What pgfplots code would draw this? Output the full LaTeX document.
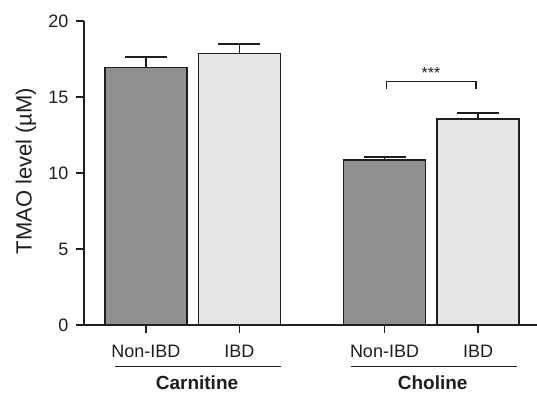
\documentclass[border=0pt]{standalone}
\usepackage{pgfplots}
\pgfplotsset{compat=1.18}
\usepackage{fontspec}
\setmainfont{Liberation Sans}
\definecolor{darkbar}{RGB}{143,144,143}
\definecolor{lightbar}{RGB}{229,229,229}
\definecolor{edge}{RGB}{30,30,30}
\begin{document}
\begin{tikzpicture}
\begin{axis}[
  at={(84pt,68pt)}, anchor=south west,
  scale only axis, width=453pt, height=304pt,
  xmin=-0.663, xmax=4.182, ymin=0, ymax=20,
  axis x line*=bottom, axis y line*=left,
  axis line style={line width=1.6pt, -, edge},
  tick style={line width=1.4pt, edge},
  tick align=outside, major tick length=8pt,
  ytick={0,5,10,15,20},
  xtick={0,1,2.551,3.551},
  xticklabels={Non-IBD,IBD,Non-IBD,IBD},
  /pgf/number format/assume math mode=true,
  ticklabel style={font=\fontsize{18}{20}\selectfont, text=edge},
  xticklabel style={yshift=-9pt},
  yticklabel style={xshift=-4pt},
  clip=false,
]
\addplot[ybar, bar width=0.877, bar shift=0pt, fill=darkbar, draw=edge, line width=1.2pt,
  error bars/.cd, y dir=plus, y explicit, error mark=|,
  error bar style={line width=1.8pt, edge},
  error mark options={line width=1.8pt, mark size=21pt, edge}]
  coordinates {(0,16.93) +- (0,0.70) (2.551,10.86) +- (0,0.21)};
\addplot[ybar, bar width=0.877, bar shift=0pt, fill=lightbar, draw=edge, line width=1.2pt,
  error bars/.cd, y dir=plus, y explicit, error mark=|,
  error bar style={line width=1.8pt, edge},
  error mark options={line width=1.8pt, mark size=21pt, edge}]
  coordinates {(1,17.85) +- (0,0.65) (3.551,13.55) +- (0,0.40)};
\draw[line width=1.2pt, edge] (axis cs:2.574,15.5) -- (axis cs:2.574,16.0) -- (axis cs:3.529,16.0) -- (axis cs:3.529,15.5);
\node[font=\fontsize{16}{18}\selectfont, text=edge] at (axis cs:3.048,16.55) {***};
\end{axis}
\node[rotate=90, font=\fontsize{22}{24}\selectfont, text=edge] at (26pt,222pt) {TMAO level (µM)};
\draw[line width=1.2pt, edge] (115pt,26.3pt) -- (281pt,26.3pt);
\draw[line width=1.2pt, edge] (351pt,26.3pt) -- (517pt,26.3pt);
\node[font=\fontsize{19}{21}\selectfont\bfseries, text=edge] at (197pt,10pt) {Carnitine};
\node[font=\fontsize{19}{21}\selectfont\bfseries, text=edge] at (432.7pt,10pt) {Choline};
\pgfresetboundingbox
\path[use as bounding box] (0,0) rectangle (537pt,393pt);
\end{tikzpicture}
\end{document}
